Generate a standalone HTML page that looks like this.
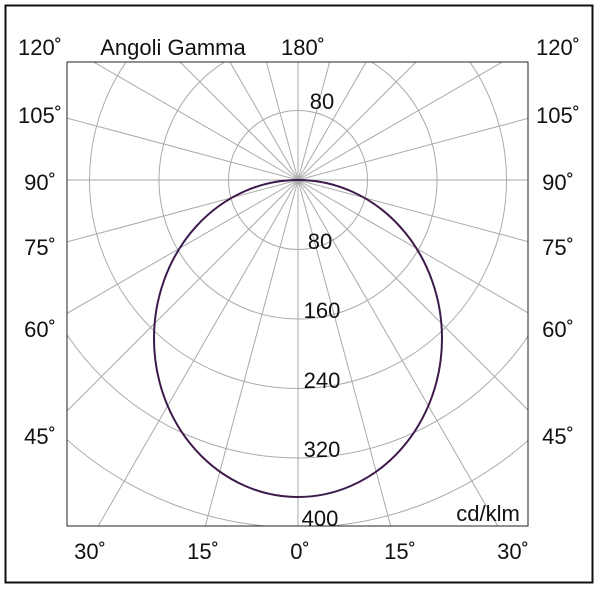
<!DOCTYPE html>
<html><head><style>
html,body{margin:0;padding:0;background:#fff;overflow:hidden;width:600px;height:600px;}
svg{display:block;}
text{font-family:"Liberation Sans",sans-serif;fill:#111;}
</style></head><body>
<svg width="600" height="600" viewBox="0 0 600 600" xmlns="http://www.w3.org/2000/svg">
<rect x="5.5" y="5.5" width="587" height="577" fill="#fff" stroke="#111" stroke-width="2"/>
<defs><clipPath id="c"><rect x="67" y="62" width="461" height="464"/></clipPath></defs>
<g clip-path="url(#c)" stroke="#aaa" stroke-width="1" fill="none">
<circle cx="298" cy="180" r="69.5"/>
<circle cx="298" cy="180" r="139"/>
<circle cx="298" cy="180" r="208.5"/>
<circle cx="298" cy="180" r="278"/>
<circle cx="298" cy="180" r="347.5"/>
<circle cx="298" cy="180" r="417"/>
<circle cx="298" cy="180" r="486.5"/>
<line x1="298" y1="180" x2="298" y2="780"/>
<line x1="298" y1="180" x2="453.3" y2="759.6"/>
<line x1="298" y1="180" x2="598" y2="699.6"/>
<line x1="298" y1="180" x2="722.3" y2="604.3"/>
<line x1="298" y1="180" x2="817.6" y2="480"/>
<line x1="298" y1="180" x2="877.6" y2="335.3"/>
<line x1="298" y1="180" x2="898" y2="180"/>
<line x1="298" y1="180" x2="877.6" y2="24.7"/>
<line x1="298" y1="180" x2="817.6" y2="-120"/>
<line x1="298" y1="180" x2="722.3" y2="-244.3"/>
<line x1="298" y1="180" x2="598" y2="-339.6"/>
<line x1="298" y1="180" x2="453.3" y2="-399.6"/>
<line x1="298" y1="180" x2="298" y2="-420"/>
<line x1="298" y1="180" x2="142.7" y2="-399.6"/>
<line x1="298" y1="180" x2="-2" y2="-339.6"/>
<line x1="298" y1="180" x2="-126.3" y2="-244.3"/>
<line x1="298" y1="180" x2="-221.6" y2="-120"/>
<line x1="298" y1="180" x2="-281.6" y2="24.7"/>
<line x1="298" y1="180" x2="-302" y2="180"/>
<line x1="298" y1="180" x2="-281.6" y2="335.3"/>
<line x1="298" y1="180" x2="-221.6" y2="480"/>
<line x1="298" y1="180" x2="-126.3" y2="604.3"/>
<line x1="298" y1="180" x2="-2" y2="699.6"/>
<line x1="298" y1="180" x2="142.7" y2="759.6"/>
</g>
<rect x="67" y="62" width="461" height="464" fill="none" stroke="#222" stroke-width="1"/>
<ellipse cx="298" cy="338.5" rx="144" ry="158.5" fill="none" stroke="#3d1a4c" stroke-width="2"/>
<g font-size="22" text-anchor="middle">
<text x="322" y="109">80</text>
<text x="320" y="249">80</text>
<text x="322" y="318">160</text>
<text x="322" y="388">240</text>
<text x="322" y="457">320</text>
<text x="320" y="526">400</text>
<text x="488" y="521">cd/klm</text>
<text x="173" y="55">Angoli Gamma</text>
<text x="303" y="55">180˚</text>
<text x="40" y="55">120˚</text>
<text x="558" y="55">120˚</text>
<text x="40" y="123">105˚</text>
<text x="558" y="123">105˚</text>
<text x="40" y="190">90˚</text>
<text x="558" y="190">90˚</text>
<text x="40" y="255">75˚</text>
<text x="558" y="255">75˚</text>
<text x="40" y="337">60˚</text>
<text x="558" y="337">60˚</text>
<text x="40" y="444">45˚</text>
<text x="558" y="444">45˚</text>
<text x="90" y="559">30˚</text>
<text x="203" y="559">15˚</text>
<text x="300" y="559">0˚</text>
<text x="400" y="559">15˚</text>
<text x="513" y="559">30˚</text>
</g>
</svg>
</body></html>
